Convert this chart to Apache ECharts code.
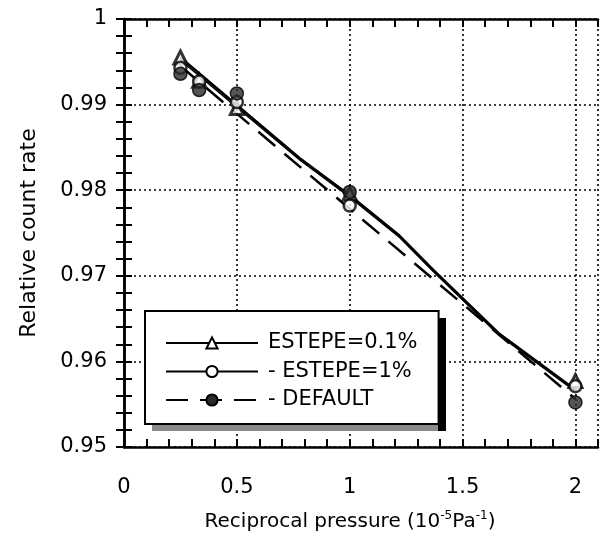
<!DOCTYPE html>
<html>
<head>
<meta charset="utf-8">
<script src="https://cdn.jsdelivr.net/npm/echarts@6/dist/echarts.min.js"></script>
<style>html,body{margin:0;padding:0;background:#fff}#c{width:601px;height:547px}</style>
</head>
<body>
<div id="c"></div>
<script>
// ---- data ----
const xPoints = [0.25, 0.333, 0.5, 1, 2];
const estepe01 = [0.9955, 0.9928, 0.9896, 0.9796, 0.9577];
const estepe1 = [0.9943, 0.9927, 0.9903, 0.9782, 0.9571];
const defaultVals = [0.9936, 0.9917, 0.9913, 0.9798, 0.9552];

// fitted curves as drawn
const fitX01 = [0.25, 0.78, 1, 1.22, 1.37, 1.66, 2];
const fitY01 = [0.9955, 0.9837, 0.9794, 0.9747, 0.9707, 0.9633, 0.9567];
const fitX1 = [0.25, 0.78, 1, 1.22, 1.37, 1.66, 2];
const fitY1 = [0.9952, 0.9835, 0.9792, 0.9745, 0.9705, 0.9631, 0.9565];
const fitXDef = [0.25, 2];
const fitYDef = [0.9945, 0.9556];

const seriesNames = ['ESTEPE=0.1%', 'ESTEPE=1%', 'DEFAULT'];
const legendLabels = ['ESTEPE=0.1%', '- ESTEPE=1%', '- DEFAULT'];
const yTicks = { min: 0.95, max: 1, interval: 0.01 };
const xTicks = { min: 0, max: 2.1, minor: 0.1, major: 0.5 };

const pairs = (xs, ys) => xs.map((x, i) => [x, ys[i]]);
const FONT = '"DejaVu Sans"';

const chart = echarts.init(document.getElementById('c'), null, { renderer: 'canvas' });
const axisLine = { show: true, lineStyle: { color: '#000', width: 2.5 } };
const tick = { show: true, inside: true, length: 8, lineStyle: { color: '#000', width: 2 } };

chart.setOption({
  animation: false,
  backgroundColor: '#fff',
  grid: { left: 124, right: 2, top: 19, bottom: 100 },
  xAxis: [
    {
      type: 'value', position: 'bottom', min: xTicks.min, max: xTicks.max, interval: xTicks.minor,
      axisLine, axisTick: tick, splitLine: { show: false },
      axisLabel: {
        margin: 30, color: '#000', fontFamily: FONT, fontSize: 21,
        formatter: v => (Math.abs(v / xTicks.major - Math.round(v / xTicks.major)) < 1e-6) ? String(+v.toFixed(1)) : ''
      },
      name: '{t|Reciprocal pressure (10}{s|-5}{t|Pa}{s|-1}{t|)}',
      nameLocation: 'middle', nameGap: 63,
      nameTextStyle: {
        padding: [0, 22, 0, 0],
        rich: {
          t: { fontFamily: FONT, fontSize: 20, color: '#000', verticalAlign: 'bottom' },
          s: { fontFamily: FONT, fontSize: 12, color: '#000', verticalAlign: 'top', padding: [0, 0, 10, 0] }
        }
      }
    },
    {
      type: 'value', position: 'top', min: xTicks.min, max: xTicks.max, interval: xTicks.minor,
      axisLine, axisTick: tick, axisLabel: { show: false }, splitLine: { show: false }
    },
    {
      type: 'value', position: 'bottom', min: xTicks.min, max: xTicks.max, interval: xTicks.major,
      axisLine: { show: false }, axisTick: { show: false }, axisLabel: { show: false },
      splitLine: { show: true, lineStyle: { color: '#000', width: 1.6, type: [2, 3] } }
    }
  ],
  yAxis: [
    {
      type: 'value', position: 'left', min: yTicks.min, max: yTicks.max, interval: yTicks.interval,
      axisLine, axisTick: tick,
      minorTick: { show: true, splitNumber: 5, length: 8, lineStyle: { color: '#000', width: 2 } },
      axisLabel: { margin: 17, color: '#000', fontFamily: FONT, fontSize: 21 },
      splitLine: { show: true, lineStyle: { color: '#000', width: 1.6, type: [2, 3] } },
      name: 'Relative count rate', nameLocation: 'middle', nameGap: 84,
      nameTextStyle: { fontFamily: FONT, fontSize: 22, color: '#000' }
    },
    {
      type: 'value', position: 'right', min: yTicks.min, max: yTicks.max, interval: yTicks.interval,
      axisLine, axisTick: tick,
      minorTick: { show: true, splitNumber: 5, length: 8, lineStyle: { color: '#000', width: 2 } },
      axisLabel: { show: false }, splitLine: { show: false }
    }
  ],
  legend: {
    orient: 'vertical', left: 145, top: 311, z: 6,
    padding: [21, 21, 13, 20], itemGap: 6.5, itemWidth: 92, itemHeight: 14,
    backgroundColor: '#fff', borderColor: '#000', borderWidth: 2,
    data: seriesNames,
    formatter: n => legendLabels[seriesNames.indexOf(n)],
    textStyle: { fontFamily: FONT, fontSize: 21, color: '#000', lineHeight: 22, padding: [0, 0, 0, 5] }
  },
  graphic: [
    { type: 'rect', z: 3, shape: { x: 152, y: 318, width: 294, height: 113 }, style: { fill: '#8a8a8a' } },
    { type: 'rect', z: 3, shape: { x: 438, y: 318, width: 8, height: 113 }, style: { fill: '#000' } }
  ],
  series: [
    {
      name: seriesNames[0], type: 'line', data: pairs(fitX01, fitY01), showSymbol: false,
      symbol: 'triangle', symbolSize: 12,
      itemStyle: { color: '#fff', borderColor: '#000', borderWidth: 2.5 },
      lineStyle: { color: '#000', width: 2.5 }, z: 3
    },
    {
      name: seriesNames[1], type: 'line', data: pairs(fitX1, fitY1), showSymbol: false,
      symbol: 'circle', symbolSize: 12,
      itemStyle: { color: '#fff', borderColor: '#000', borderWidth: 2.5 },
      lineStyle: { color: '#000', width: 1.5 }, z: 3
    },
    {
      name: seriesNames[2], type: 'line', data: pairs(fitXDef, fitYDef), showSymbol: false,
      symbol: 'circle', symbolSize: 12,
      itemStyle: { color: '#2a2a2a', borderColor: '#000', borderWidth: 1.5 },
      lineStyle: { color: '#000', width: 2.5, type: [22, 12] }, z: 3
    },
    {
      name: seriesNames[0], type: 'scatter', data: pairs(xPoints, estepe01),
      symbol: 'triangle', symbolSize: 13,
      itemStyle: { color: '#fff', borderColor: '#000', borderWidth: 3 }, z: 4
    },
    {
      name: seriesNames[1], type: 'scatter', data: pairs(xPoints, estepe1),
      symbol: 'circle', symbolSize: 12,
      itemStyle: { color: '#fff', borderColor: '#000', borderWidth: 2.5 }, z: 5
    },
    {
      name: seriesNames[2], type: 'scatter', data: pairs(xPoints, defaultVals),
      symbol: 'circle', symbolSize: 13,
      itemStyle: { color: '#2a2a2a', borderColor: '#000', borderWidth: 1.5 }, z: 5
    }
  ]
});
</script>
</body>
</html>
